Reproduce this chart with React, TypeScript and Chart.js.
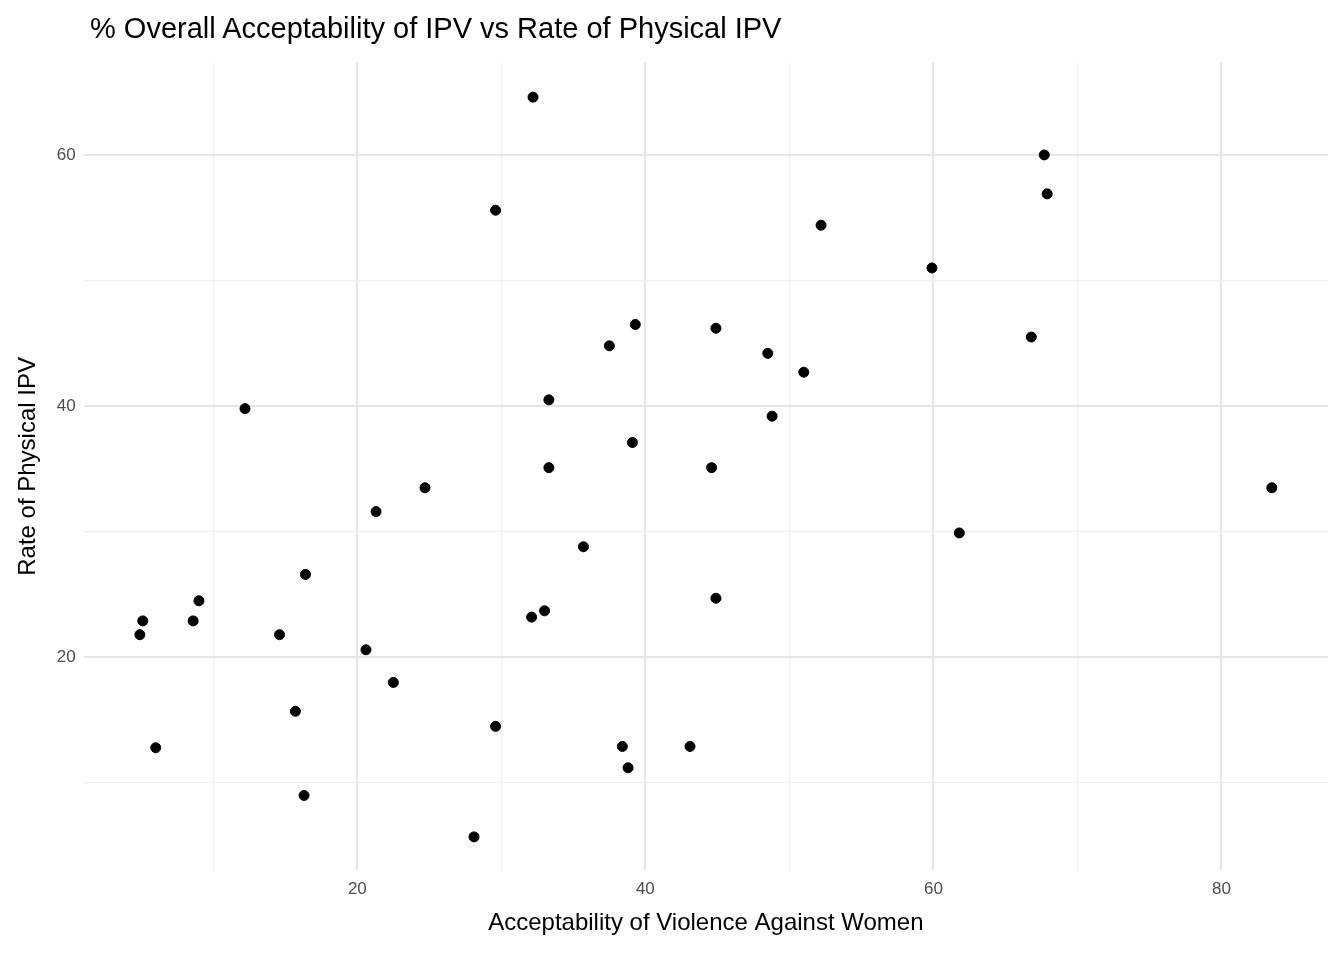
import { useEffect, useRef } from "react";
import { Chart, ChartConfiguration, registerables } from "chart.js";

Chart.register(...registerables);

// acceptability of violence against women (%)
const acceptability = [
  32.2, 29.6, 67.7, 67.9, 52.2, 59.9, 39.3, 44.9, 37.5, 48.5, 66.8, 51.0, 33.3, 12.2,
  48.8, 39.1, 33.3, 44.6, 24.7, 83.5, 21.3, 61.8, 35.7, 16.4, 9.0, 44.9, 5.1, 8.6,
  33.0, 32.1, 4.9, 14.6, 20.6, 22.5, 15.7, 29.6, 6.0, 38.4, 43.1, 38.8, 16.3, 28.1,
];
// rate of physical IPV (%)
const physicalIpv = [
  64.6, 55.6, 60.0, 56.9, 54.4, 51.0, 46.5, 46.2, 44.8, 44.2, 45.5, 42.7, 40.5, 39.8,
  39.2, 37.1, 35.1, 35.1, 33.5, 33.5, 31.6, 29.9, 28.8, 26.6, 24.5, 24.7, 22.9, 22.9,
  23.7, 23.2, 21.8, 21.8, 20.6, 18.0, 15.7, 14.5, 12.8, 12.9, 12.9, 11.2, 9.0, 5.7,
];

const font = "'Liberation Sans', Arial, sans-serif";

const gridOpts = {
  color: (c: any) => (c.tick && c.tick.value % 20 === 0 ? "#e6e6e6" : "#f0f0f0"),
  lineWidth: (c: any) => (c.tick && c.tick.value % 20 === 0 ? 2 : 1.2),
  drawTicks: false,
};

const onlyTens = (scale: any) => {
  scale.ticks = scale.ticks.filter((t: any) => t.value % 10 === 0);
};

export default function App() {
  const canvasRef = useRef<HTMLCanvasElement>(null);
  const chartRef = useRef<Chart | null>(null);

  useEffect(() => {
    document.body.style.margin = "0";
    if (!canvasRef.current) return;
    const ctx = canvasRef.current.getContext("2d");
    if (!ctx) return;
    if (chartRef.current) chartRef.current.destroy();

    const config: ChartConfiguration = {
      type: "scatter",
      data: {
        datasets: [
          {
            data: acceptability.map((x, i) => ({ x, y: physicalIpv[i] })),
            backgroundColor: "#000",
            borderColor: "#000",
            pointRadius: 5,
          },
        ],
      },
      options: {
        animation: false,
        responsive: false,
        layout: { padding: { left: 10, right: 16, top: 62, bottom: 18 } },
        scales: {
          x: {
            min: 1,
            max: 87.4,
            border: { display: false },
            grid: gridOpts as any,
            afterBuildTicks: onlyTens,
            ticks: {
              stepSize: 10,
              padding: 8,
              color: "#4d4d4d",
              font: { family: font, size: 17 },
              callback: (v: any) => (v % 20 === 0 ? String(v) : ""),
            },
            title: {
              display: true,
              text: "Acceptability of Violence Against Women",
              color: "#000",
              font: { family: font, size: 24 },
              padding: { top: 2 },
            },
          },
          y: {
            min: 3,
            max: 67.4,
            border: { display: false },
            grid: gridOpts as any,
            afterBuildTicks: onlyTens,
            ticks: {
              stepSize: 10,
              padding: 8,
              color: "#4d4d4d",
              font: { family: font, size: 17 },
              callback: (v: any) => (v % 20 === 0 ? String(v) : ""),
            },
            title: {
              display: true,
              text: "Rate of Physical IPV",
              color: "#000",
              font: { family: font, size: 24 },
              padding: { bottom: 6 },
            },
          },
        },
        plugins: {
          legend: { display: false },
          tooltip: { enabled: false },
        },
      },
    };

    chartRef.current = new Chart(ctx, config);
    return () => {
      if (chartRef.current) chartRef.current.destroy();
    };
  }, []);

  return (
    <div style={{ position: "relative", width: 1344, height: 960 }}>
      <div
        style={{
          position: "absolute",
          left: 90,
          top: 12,
          fontFamily: font,
          fontSize: 29,
          color: "#000",
          whiteSpace: "nowrap",
        }}
      >
        % Overall Acceptability of IPV vs Rate of Physical IPV
      </div>
      <canvas ref={canvasRef} width={1344} height={960} style={{ display: "block" }}></canvas>
    </div>
  );
}
